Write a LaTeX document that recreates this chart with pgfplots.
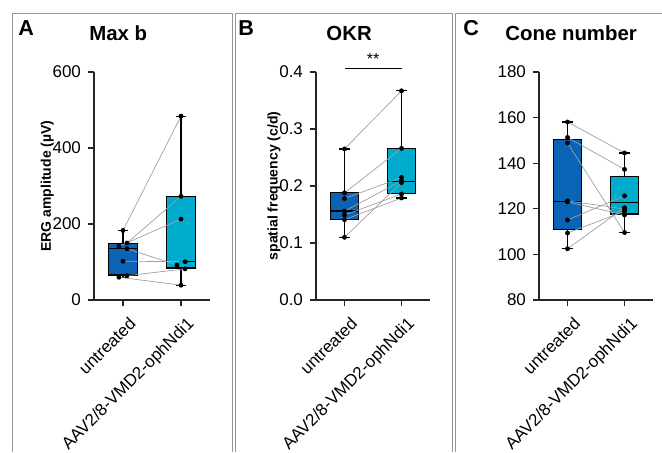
\documentclass[border=0pt]{standalone}
\usepackage{fontspec}
\setmainfont{Liberation Sans}
\usepackage{pgfplots}
\pgfplotsset{compat=1.18}

\definecolor{untr}{RGB}{10,99,181}
\definecolor{aav}{RGB}{0,172,206}
\definecolor{framegray}{RGB}{150,150,150}
\definecolor{pairline}{RGB}{160,160,160}

\pgfplotsset{
  panel/.style={
    scale only axis, height=114pt,
    axis lines=left, axis line style={-, line width=0.6pt, black!85},
    xmin=-0.5, xmax=1.5, enlargelimits=false,
    xtick={0,1}, xticklabels={untreated, AAV2/8-VMD2-ophNdi1},
    x tick label style={xshift=2.5pt, rotate=45, anchor=north east, font=\fontsize{8.5}{9}\selectfont},
    y tick label style={font=\fontsize{8.5}{9}\selectfont},
    tick align=outside, major tick length=3pt,
    tick style={black!85, line width=0.6pt},
    ylabel style={font=\bfseries\fontsize{7}{8}\selectfont},
    ylabel shift=-7.5pt,
    /pgf/number format/assume math mode=true,
    clip=false,
  },
  bx/.style={draw=black, line width=0.6pt},
  pair/.style={pairline, line width=0.35pt},
  pts/.style={only marks, mark=*, mark size=1pt, black},
}

% box: position, lower whisker, lower quartile, median, upper quartile, upper whisker, colour
\newcommand{\drawbox}[7]{%
  \addplot[bx] coordinates {(#1,#2) (#1,#3)};
  \addplot[bx] coordinates {(#1,#5) (#1,#6)};
  \addplot[bx] coordinates {(#1-0.09,#2) (#1+0.09,#2)};
  \addplot[bx] coordinates {(#1-0.09,#6) (#1+0.09,#6)};
  \addplot[bx, fill=#7] coordinates {(#1-0.25,#3) (#1+0.25,#3) (#1+0.25,#5) (#1-0.25,#5)} -- cycle;
  \addplot[bx] coordinates {(#1-0.25,#4) (#1+0.25,#4)};
}

\begin{document}
\begin{tikzpicture}
\useasboundingbox (0,0) rectangle (331pt,-226pt);

% panel frames
\draw[framegray, line width=0.5pt] (6pt,-226pt) -- (6pt,-6.5pt) -- (116pt,-6.5pt) -- (116pt,-226pt);
\draw[framegray, line width=0.5pt] (117.5pt,-226pt) -- (117.5pt,-6.5pt) -- (226pt,-6.5pt) -- (226pt,-226pt);
\draw[framegray, line width=0.5pt] (227.5pt,-226pt) -- (227.5pt,-6.5pt) -- (331pt,-6.5pt);

% panel letters and titles
\node[anchor=base west, inner sep=0, font=\bfseries\fontsize{10.8}{12}\selectfont] at (9pt,-17.5pt) {A};
\node[anchor=base west, inner sep=0, font=\bfseries\fontsize{10.2}{12}\selectfont] at (44.5pt,-20pt) {Max b};
\node[anchor=base west, inner sep=0, font=\bfseries\fontsize{10.8}{12}\selectfont] at (119pt,-17.5pt) {B};
\node[anchor=base west, inner sep=0, font=\bfseries\fontsize{10.2}{12}\selectfont] at (163pt,-20pt) {OKR};
\node[anchor=base west, inner sep=0, font=\bfseries\fontsize{10.8}{12}\selectfont] at (231.5pt,-17.5pt) {C};
\node[anchor=base west, inner sep=0, font=\bfseries\fontsize{10.2}{12}\selectfont] at (252.5pt,-20pt) {Cone number};

% ---------- A: Max b ----------
\begin{axis}[panel, at={(47pt,-150pt)}, anchor=south west, width=58pt,
  ymin=0, ymax=600, ytick={0,200,400,600},
  ylabel={ERG amplitude (µV)}]
\drawbox{0}{60}{66}{135}{148}{183}{untr}
\drawbox{1}{39}{84}{101}{273}{484}{aav}
\addplot[pair] coordinates {(0,183) (1,484)};
\addplot[pair] coordinates {(0.07,150) (1,273)};
\addplot[pair] coordinates {(-0.07,141) (1,213)};
\addplot[pair] coordinates {(0.07,135) (0.93,92)};
\addplot[pair] coordinates {(0,102) (1.07,101)};
\addplot[pair] coordinates {(0.07,64) (1.07,82)};
\addplot[pair] coordinates {(-0.07,60) (1,39)};
\addplot[pts] coordinates {(0,183) (0.07,150) (-0.07,141) (0.07,135) (0,102) (0.07,64) (-0.07,60)};
\addplot[pts] coordinates {(1,484) (1,273) (1,213) (1.07,101) (0.93,92) (1.07,82) (1,39)};
\end{axis}

% ---------- B: OKR ----------
\begin{axis}[panel, at={(158pt,-150pt)}, anchor=south west, width=57pt,
  ymin=0, ymax=0.4, ytick={0,0.1,0.2,0.3,0.4},
  yticklabel style={/pgf/number format/.cd, fixed, fixed zerofill, precision=1},
  ylabel={spatial frequency (c/d)}]
\drawbox{0}{0.110}{0.1415}{0.156}{0.189}{0.265}{untr}
\drawbox{1}{0.179}{0.187}{0.208}{0.266}{0.367}{aav}
\addplot[pair] coordinates {(0,0.265) (1,0.367)};
\addplot[pair] coordinates {(0,0.188) (1,0.266)};
\addplot[pair] coordinates {(0,0.178) (1,0.215)};
\addplot[pair] coordinates {(0,0.156) (1,0.209)};
\addplot[pair] coordinates {(0,0.149) (1,0.186)};
\addplot[pair] coordinates {(0,0.141) (1,0.179)};
\addplot[pair] coordinates {(0,0.110) (1,0.206)};
\addplot[pts] coordinates {(0,0.265) (0,0.188) (0,0.178) (0,0.156) (0,0.149) (0,0.141) (0,0.110)};
\addplot[pts] coordinates {(1,0.367) (1,0.266) (1,0.215) (1,0.209) (1,0.206) (1,0.186) (1,0.179)};
\draw[line width=0.6pt] (axis cs:0,0.4065) -- (axis cs:1,0.4065);
\node[anchor=south, inner sep=1.5pt, font=\fontsize{8}{9}\selectfont] at (axis cs:0.5,0.4065) {**};
\end{axis}

% ---------- C: Cone number ----------
\begin{axis}[panel, at={(269.5pt,-150pt)}, anchor=south west, width=57pt,
  ymin=80, ymax=180, ytick={80,100,...,180}]
\drawbox{0}{102.5}{110.9}{123.3}{150.3}{158.1}{untr}
\drawbox{1}{109.6}{117.7}{122.8}{134.1}{144.5}{aav}
\addplot[pair] coordinates {(0,158.1) (1,144.5)};
\addplot[pair] coordinates {(0,151.3) (1,137.3)};
\addplot[pair] coordinates {(0,148.9) (1,109.6)};
\addplot[pair] coordinates {(0,123.5) (1,119.9)};
\addplot[pair] coordinates {(0,123.0) (1,117.3)};
\addplot[pair] coordinates {(0,115.1) (1,125.7)};
\addplot[pair] coordinates {(0,109.4) (1,118.9)};
\addplot[pair] coordinates {(0,102.5) (1,120.5)};
\addplot[pts] coordinates {(0,158.1) (0,151.3) (0,148.9) (0,123.5) (0,123.0) (0,115.1) (0,109.4) (0,102.5)};
\addplot[pts] coordinates {(1,144.5) (1,137.3) (1,125.7) (1,120.5) (1,119.9) (1,118.9) (1,117.3) (1,109.6)};
\end{axis}
\end{tikzpicture}
\end{document}
